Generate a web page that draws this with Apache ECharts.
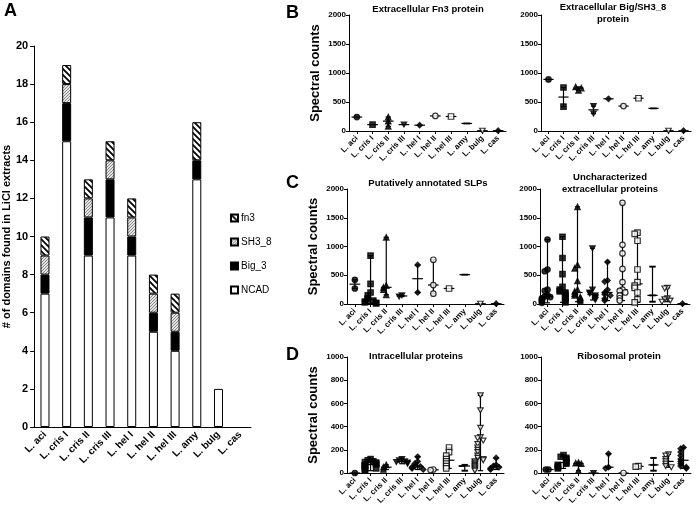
<!DOCTYPE html>
<html>
<head>
<meta charset="utf-8">
<script src="https://cdn.jsdelivr.net/npm/echarts@6/dist/echarts.min.js"></script>
<style>html,body{margin:0;background:#fff}#chart{width:696px;height:508px}</style>
</head>
<body>
<div id="chart"></div>
<script>
var strains = ['L. aci', 'L. cris I', 'L. cris II', 'L. cris III', 'L. hel I', 'L. hel II', 'L. hel III', 'L. amy', 'L. bulg', 'L. cas'];

// panel A: number of domains per strain
var ncad = [7, 15, 9, 11, 9, 5, 4, 13, 2, 0];
var big3 = [1, 2, 2, 2, 1, 1, 1, 1, 0, 0];
var sh38 = [1, 1, 1, 1, 1, 1, 1, 0, 0, 0];
var fn3 = [1, 1, 1, 1, 1, 1, 1, 2, 0, 0];

// panels B-D: spectral counts of each protein, per strain
var fn3Protein = [[240], [110], [240, 170, 80], [110], [100], [260], [250], [130], [5], [5]];
var bigSh3Protein = [[890], [750, 420], [700, 760, 740], [430, 300], [555], [430], [565], [390], [5], [5]];
var slpProtein = [[420, 270], [840, 350, 200, 150, 100, 80, 60, 40, 30, 20, 10], [1160, 320, 290, 250, 160], [150, 130], [680, 200], [770, 330, 180], [270], [510], [5], [5]];
var unknownProtein = [
  [1120, 600, 570, 250, 230, 150, 130, 120, 100, 80, 60, 40, 20],
  [1170, 800, 520, 300, 250, 220, 200, 180, 150, 120, 100, 80, 50, 30],
  [1690, 680, 620, 400, 250, 220, 180, 150, 120, 100, 70, 40],
  [970, 250, 200, 180, 150, 120, 100, 70],
  [730, 410, 390, 250, 200, 170, 150, 90, 60],
  [1760, 1030, 880, 610, 380, 250, 230, 200, 150, 100, 60],
  [1240, 1220, 1100, 600, 380, 320, 280, 200, 80, 30],
  [650, 150, 40],
  [280, 270, 100, 80, 60, 40],
  [5]
];
var intraProtein = [
  [0],
  [120, 110, 100, 95, 90, 80, 75, 70, 65, 60, 50, 40, 30, 20],
  [70, 50, 30],
  [120, 110, 100, 95, 90, 80],
  [140, 100, 80, 60, 55, 50, 40, 30],
  [30, 25],
  [220, 180, 150, 120, 100, 80, 60, 40],
  [70, 60, 20],
  [670, 540, 390, 310, 300, 280, 250, 220, 200, 180, 150, 130, 120, 110, 100, 90, 80, 70, 60, 50, 40, 30, 20],
  [130, 70, 60, 50, 40, 30]
];
var riboProtein = [
  [30, 30],
  [155, 140, 130, 120, 100, 90, 80, 70, 60, 50, 40],
  [90, 85, 80, 20],
  [0],
  [165, 50, 40],
  [0],
  [60, 55],
  [130, 70, 20],
  [160, 150, 120, 100, 80, 60, 50],
  [220, 210, 180, 150, 120, 100, 80, 60, 50, 40]
];

var FONT = 'Liberation Sans';

// fill patterns for panel A
function hatch() {
  var c = document.createElement('canvas');
  c.width = c.height = 6;
  var g = c.getContext('2d');
  g.fillStyle = '#fff';
  g.fillRect(0, 0, 6, 6);
  g.strokeStyle = '#000';
  g.lineWidth = 1.8;
  g.beginPath();
  g.moveTo(-1, -1); g.lineTo(7, 7);
  g.moveTo(-4, 2); g.lineTo(4, 10);
  g.moveTo(2, -4); g.lineTo(10, 4);
  g.stroke();
  return c;
}
function dots() {
  var c = document.createElement('canvas');
  c.width = c.height = 3;
  var g = c.getContext('2d');
  g.fillStyle = '#e4e4e4';
  g.fillRect(0, 0, 3, 3);
  g.fillStyle = '#888';
  g.fillRect(0, 0, 1, 1);
  g.fillRect(2, 1, 1, 1);
  g.fillRect(1, 2, 1, 1);
  return c;
}
function nz(arr) { return arr.map(function (v) { return v === 0 ? '-' : v; }); }

// one symbol per strain
var invTri = 'path://M0,0L10,0L5,9Z';
var dash = 'path://M0,0L10,0L10,1.4L0,1.4Z';
var marks = [
  ['circle', 1], ['rect', 1], ['triangle', 1], [invTri, 1], ['diamond', 1],
  ['circle', 0], ['rect', 0], [dash, 1], [invTri, 0], ['diamond', 1]
];

function spread(vals, tol) {
  var placed = [];
  return vals.map(function (v) {
    var n = placed.filter(function (p) { return Math.abs(p - v) < tol; }).length;
    placed.push(v);
    if (n === 0) return 0;
    var k = Math.min(Math.ceil(n / 2), 2);
    return (n % 2 ? -1 : 1) * k * 2.8;
  });
}
function median(a) {
  var s = a.slice().sort(function (x, y) { return x - y; });
  var m = Math.floor(s.length / 2);
  return s.length % 2 ? s[m] : (s[m - 1] + s[m]) / 2;
}

function rangeItem(params, api) {
  var c = api.value(0);
  var lo = api.coord([c, api.value(1)]);
  var md = api.coord([c, api.value(2)]);
  var hi = api.coord([c, api.value(3)]);
  var band = api.size([1, 0])[0];
  var hw = band * 0.34, cw = band * 0.17;
  var st = {stroke: '#000', lineWidth: 1.2};
  var kids = [{type: 'line', shape: {x1: md[0] - hw, y1: md[1], x2: md[0] + hw, y2: md[1]}, style: st}];
  if (lo[1] - hi[1] > 1) {
    kids.push({type: 'line', shape: {x1: lo[0], y1: lo[1], x2: hi[0], y2: hi[1]}, style: st});
    kids.push({type: 'line', shape: {x1: lo[0] - cw, y1: lo[1], x2: lo[0] + cw, y2: lo[1]}, style: st});
    kids.push({type: 'line', shape: {x1: hi[0] - cw, y1: hi[1], x2: hi[0] + cw, y2: hi[1]}, style: st});
  }
  return {type: 'group', children: kids};
}

var panels = [
  {title: 'Extracellular Fn3 protein', data: fn3Protein, max: 2000, step: 500, grid: {left: 349, top: 15, width: 157, height: 116}, tx: 428, ty: 3, ylab: true},
  {title: 'Extracellular Big/SH3_8\nprotein', data: bigSh3Protein, max: 2000, step: 500, grid: {left: 541, top: 15, width: 150, height: 116}, tx: 613, ty: 1},
  {title: 'Putatively annotated SLPs', data: slpProtein, max: 2000, step: 500, grid: {left: 347, top: 189, width: 157, height: 115}, tx: 428, ty: 177, ylab: true},
  {title: 'Uncharacterized\nextracellular proteins', data: unknownProtein, max: 2000, step: 500, grid: {left: 540, top: 189, width: 150, height: 115}, tx: 610, ty: 171},
  {title: 'Intracellular proteins', data: intraProtein, max: 1000, step: 200, grid: {left: 347, top: 357, width: 157, height: 116}, tx: 416, ty: 350, ylab: true},
  {title: 'Ribosomal protein', data: riboProtein, max: 1000, step: 200, grid: {left: 541, top: 357, width: 150, height: 116}, tx: 619, ty: 350}
];

var axisLine = {show: true, lineStyle: {color: '#000', width: 1}};
var grids = [{left: 32, top: 46, width: 219, height: 381}];
var xAxes = [{
  type: 'category', data: strains, gridIndex: 0,
  axisLine: axisLine, axisTick: {show: false},
  axisLabel: {rotate: 45, interval: 0, color: '#000', fontFamily: FONT, fontWeight: 'bold', fontSize: 10, margin: 6}
}];
var yAxes = [{
  type: 'value', gridIndex: 0, min: 0, max: 20, interval: 2,
  name: '# of domains found in LiCl extracts', nameLocation: 'middle', nameGap: 18,
  nameTextStyle: {color: '#000', fontFamily: FONT, fontWeight: 'bold', fontSize: 11},
  axisLine: axisLine, axisTick: {show: true, length: 4, lineStyle: {color: '#000'}},
  splitLine: {show: false},
  axisLabel: {color: '#000', fontFamily: FONT, fontWeight: 'bold', fontSize: 11, margin: 6}
}];
var border = {borderColor: '#000', borderWidth: 1};
var series = [
  {name: 'NCAD', type: 'bar', stack: 'd', barWidth: 9, data: nz(ncad), itemStyle: Object.assign({color: '#fff'}, border)},
  {name: 'Big_3', type: 'bar', stack: 'd', barWidth: 9, data: nz(big3), itemStyle: Object.assign({color: '#000'}, border)},
  {name: 'SH3_8', type: 'bar', stack: 'd', barWidth: 9, data: nz(sh38), itemStyle: Object.assign({color: {image: dots(), repeat: 'repeat'}}, border)},
  {name: 'fn3', type: 'bar', stack: 'd', barWidth: 9, data: nz(fn3), itemStyle: Object.assign({color: {image: hatch(), repeat: 'repeat'}}, border)}
];
var graphics = [
  {type: 'text', x: 4, y: 2, style: {text: 'A', fontFamily: FONT, fontWeight: 'bold', fontSize: 18, fill: '#000'}},
  {type: 'text', x: 286, y: 4, style: {text: 'B', fontFamily: FONT, fontWeight: 'bold', fontSize: 18, fill: '#000'}},
  {type: 'text', x: 286, y: 174, style: {text: 'C', fontFamily: FONT, fontWeight: 'bold', fontSize: 18, fill: '#000'}},
  {type: 'text', x: 286, y: 346, style: {text: 'D', fontFamily: FONT, fontWeight: 'bold', fontSize: 18, fill: '#000'}}
];

panels.forEach(function (p, k) {
  var gi = k + 1;
  grids.push(p.grid);
  xAxes.push({
    type: 'category', data: strains, gridIndex: gi,
    axisLine: axisLine, axisTick: {show: true, alignWithLabel: true, length: 3, lineStyle: {color: '#000'}},
    axisLabel: {rotate: 45, interval: 0, color: '#000', fontFamily: FONT, fontWeight: 'bold', fontSize: 8, margin: 6}
  });
  yAxes.push({
    type: 'value', gridIndex: gi, min: 0, max: p.max, interval: p.step,
    name: p.ylab ? 'Spectral counts' : '', nameLocation: 'middle', nameGap: 27,
    nameTextStyle: {color: '#000', fontFamily: FONT, fontWeight: 'bold', fontSize: 13},
    axisLine: axisLine, axisTick: {show: true, length: 3, lineStyle: {color: '#000'}},
    splitLine: {show: false},
    axisLabel: {color: '#000', fontFamily: FONT, fontWeight: 'bold', fontSize: 8, margin: 3,
      formatter: function (v) { return String(v); }}
  });
  var pts = [], ranges = [];
  p.data.forEach(function (vals, i) {
    var offs = spread(vals, p.max * 0.035);
    vals.forEach(function (v, j) {
      pts.push({
        value: [i, v], symbol: marks[i][0], symbolOffset: [offs[j], 0],
        itemStyle: {color: marks[i][1] ? '#000' : '#fff', borderColor: '#000', borderWidth: 1.2}
      });
    });
    ranges.push([i, Math.min.apply(null, vals), median(vals), Math.max.apply(null, vals)]);
  });
  series.push({type: 'custom', xAxisIndex: gi, yAxisIndex: gi, z: 2, renderItem: rangeItem, data: ranges, silent: true});
  series.push({type: 'scatter', xAxisIndex: gi, yAxisIndex: gi, z: 3, symbolSize: 5.5, symbolKeepAspect: true, data: pts, silent: true});
  graphics.push({type: 'text', x: p.tx, y: p.ty, style: {
    text: p.title, fontFamily: FONT, fontWeight: 'bold', fontSize: 9.5, lineHeight: 12,
    fill: '#000', textAlign: 'center', align: 'center', verticalAlign: 'top', textVerticalAlign: 'top'
  }});
});

var myChart = echarts.init(document.getElementById('chart'));
myChart.setOption({
  animation: false,
  backgroundColor: '#fff',
  grid: grids,
  xAxis: xAxes,
  yAxis: yAxes,
  legend: {
    data: ['fn3', 'SH3_8', 'Big_3', 'NCAD'],
    orient: 'vertical', left: 225, top: 208, itemWidth: 7, itemHeight: 7, itemGap: 14,
    icon: 'rect', selectedMode: false,
    textStyle: {color: '#000', fontFamily: FONT, fontSize: 10, padding: [0, 0, 0, -2]}
  },
  graphic: graphics,
  series: series
});
</script>
</body>
</html>
